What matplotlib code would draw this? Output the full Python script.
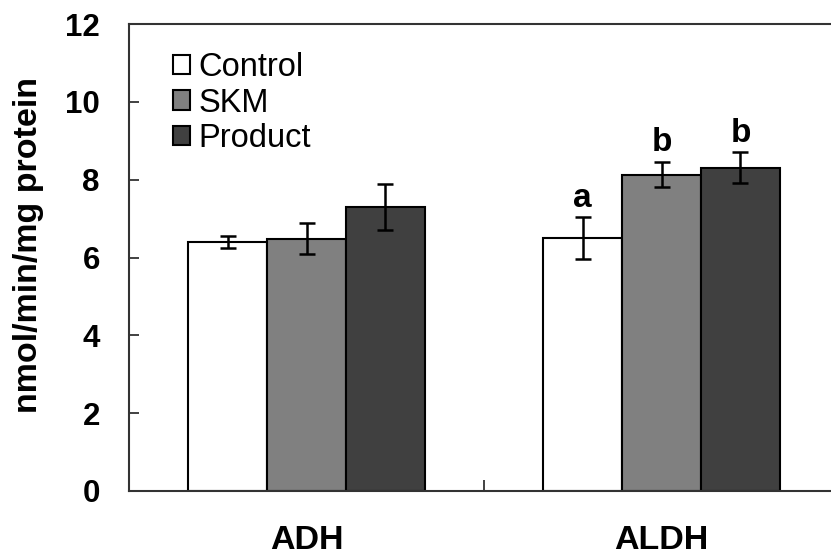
import numpy as np
import matplotlib.pyplot as plt

plt.rcParams['font.family'] = ['Liberation Sans', 'DejaVu Sans']

# Enzyme activity (nmol/min/mg protein), mean and error
enzymes = ["ADH", "ALDH"]
groups = ["Control", "SKM", "Product"]
means = {
    "Control": [6.40, 6.50],
    "SKM": [6.48, 8.13],
    "Product": [7.30, 8.31],
}
errors = {
    "Control": [0.15, 0.53],
    "SKM": [0.40, 0.33],
    "Product": [0.60, 0.39],
}
# significance letters (ALDH only)
letters = {
    "Control": ["", "a"],
    "SKM": ["", "b"],
    "Product": ["", "b"],
}
colors = {"Control": "#ffffff", "SKM": "#808080", "Product": "#404040"}

fig = plt.figure(figsize=(8.31, 5.58), dpi=100)
ax = fig.add_axes([129 / 831, 1 - 491 / 558, 710 / 831, 467 / 558])

x = np.arange(len(enzymes)) + 0.5
width = 0.2225
for i, g in enumerate(groups):
    pos = x + (i - 1) * width
    ax.bar(pos, means[g], width, color=colors[g], edgecolor="black",
           linewidth=1.5, label=g, zorder=2)
    ax.errorbar(pos, means[g], yerr=errors[g], fmt="none", ecolor="black",
                elinewidth=1.8, capsize=5.5, capthick=1.8, zorder=3)
    for p, m, e, t in zip(pos, means[g], errors[g], letters[g]):
        if t:
            ax.text(p, m + e + 0.1, t, ha="center", va="bottom",
                    fontsize=24, fontweight="bold")

ax.set_xlim(0, 2)
ax.set_ylim(0, 12)
ax.set_yticks(np.arange(0, 13, 2))
ax.set_xticks([1])
ax.set_xticklabels([""])
ax.tick_params(axis="y", direction="in", length=7, width=1.3, pad=21,
               labelsize=22.5, colors="#333333", labelcolor="black")
ax.tick_params(axis="x", direction="in", length=8, width=1.3, colors="#333333")
for lab in ax.get_yticklabels():
    lab.set_fontweight("bold")

for name, sp in ax.spines.items():
    sp.set_linewidth(1.5)
    sp.set_color("#333333")

for xc, name in zip(x, enzymes):
    ax.text(xc, -1.27, name, ha="center", va="center", fontsize=24.5,
            fontweight="bold")

ax.set_ylabel("nmol/min/mg protein", fontsize=24.5, fontweight="bold")
ax.yaxis.set_label_coords(-0.12, 0.527)

leg = ax.legend(loc="upper left", bbox_to_anchor=(0.062, 0.939), frameon=False,
                fontsize=23.5, handlelength=0.52, handleheight=0.52,
                handletextpad=0.25, labelspacing=0.125, borderaxespad=0,
                borderpad=0)

fig.savefig("out.png", dpi=100)
